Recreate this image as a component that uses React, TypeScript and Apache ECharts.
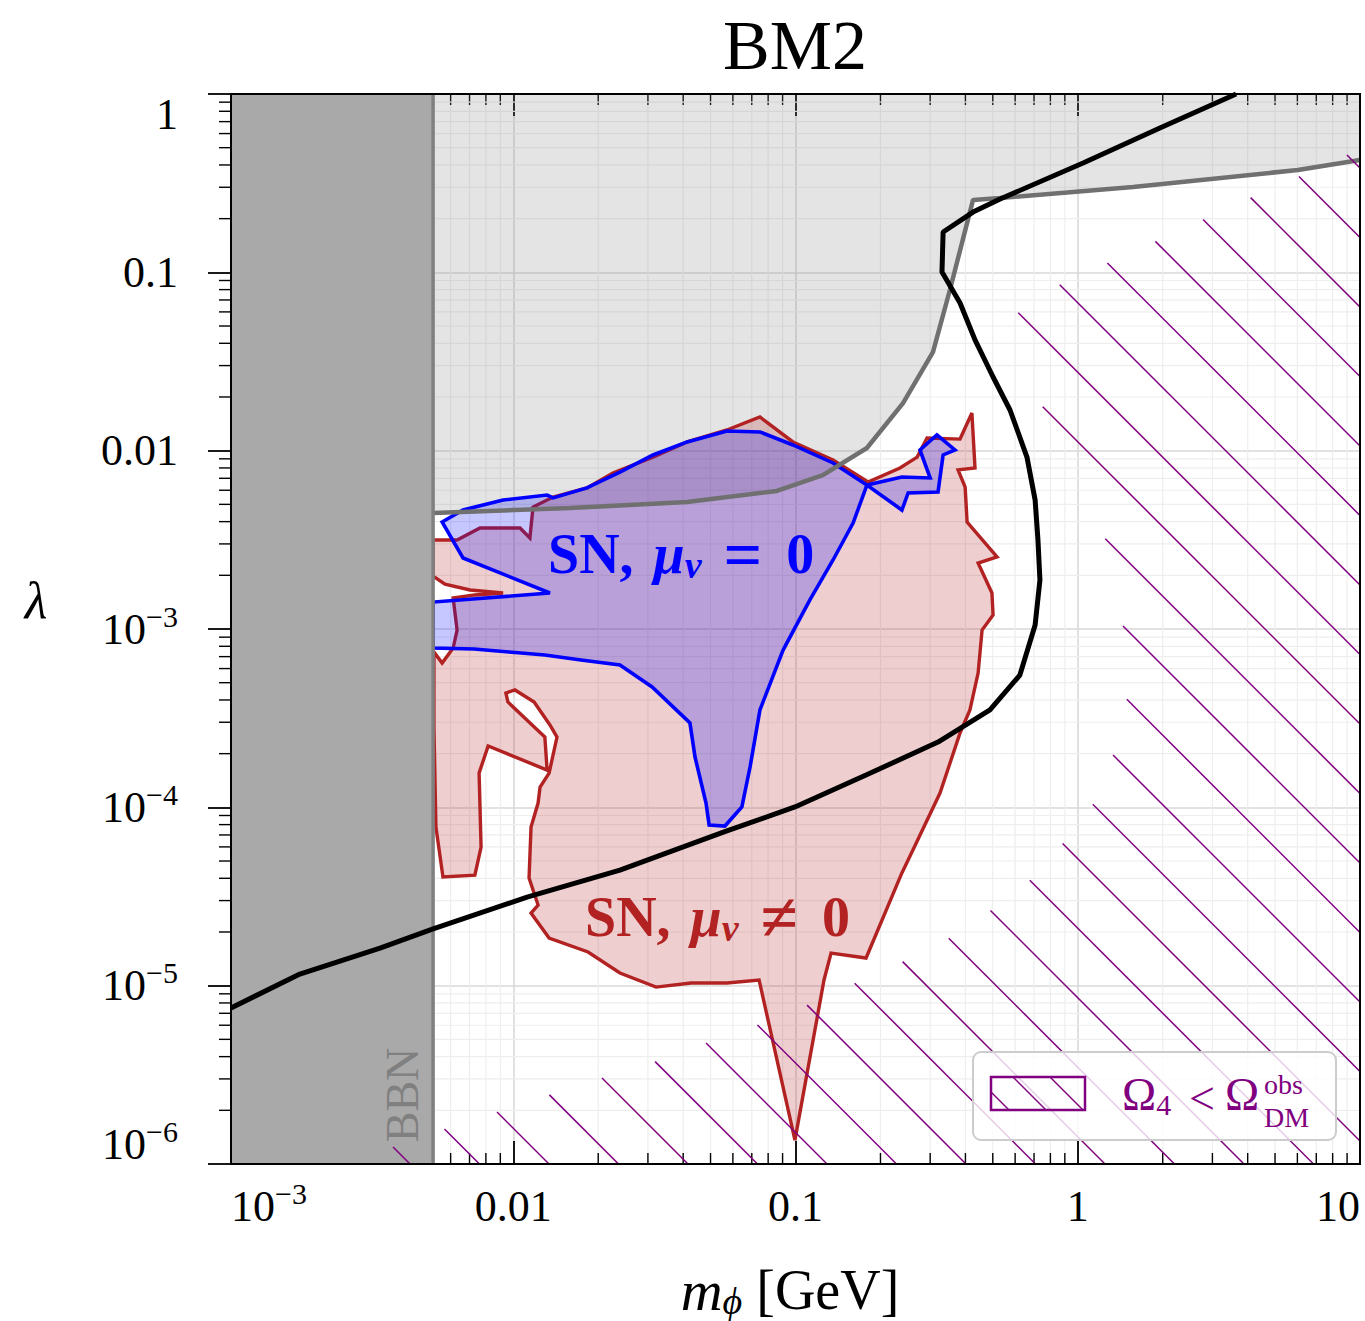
import React, { useEffect, useRef } from 'react';
import * as echarts from 'echarts';

const FONT = '"Liberation Serif", "Times New Roman", serif';

// ---------------- axes ----------------
const xRange = [1e-3, 10];
const yRange = [1e-6, 1];
const xTickValues = [1e-3, 1e-2, 1e-1, 1, 10];
const xTickLabels = ['10^−3', '0.01', '0.1', '1', '10'];
const yTickValues = [1e-6, 1e-5, 1e-4, 1e-3, 1e-2, 1e-1, 1];
const yTickLabels = ['10^−6', '10^−5', '10^−4', '10^−3', '0.01', '0.1', '1'];
const minorSteps = [2, 3, 4, 5, 6, 7, 8, 9];
const xDecades = [1e-3, 1e-2, 1e-1, 1];
const yDecades = [1e-6, 1e-5, 1e-4, 1e-3, 1e-2, 1e-1];

// ---------------- data ----------------
// BBN bound on the mediator mass (GeV)
const bbnMassLimit = 5.2e-3;

// All contours below: [log10(m_phi / GeV), log10(lambda)]
const grayBoundExp = [
  [-2.284, -2.350], [-1.799, -2.322], [-1.384, -2.288], [-1.066, -2.226], [-0.903, -2.137],
  [-0.747, -1.985], [-0.619, -1.733], [-0.513, -1.447], [-0.453, -1.099], [-0.371, -0.594],
  [-0.275, -0.583], [0.196, -0.522], [0.780, -0.426], [1.000, -0.370],
];

const blackCurveExp = [
  [-3.000, -5.125], [-2.756, -4.935], [-2.472, -4.789], [-2.284, -4.682], [-1.951, -4.503],
  [-1.622, -4.352], [-1.253, -4.138], [-1.002, -3.998], [-0.750, -3.819], [-0.495, -3.634],
  [-0.311, -3.454], [-0.205, -3.258], [-0.151, -2.978], [-0.134, -2.725], [-0.141, -2.501],
  [-0.151, -2.277], [-0.180, -2.036], [-0.240, -1.772], [-0.300, -1.587], [-0.364, -1.379],
  [-0.417, -1.172], [-0.481, -0.998], [-0.477, -0.774], [-0.371, -0.662], [-0.275, -0.589],
  [0.019, -0.387], [0.291, -0.191], [0.561, 0.000],
];

// SN bound, mu_nu != 0 (red)
const snNonzeroExp = [
  [-2.284, -2.501], [-2.199, -2.501], [-2.118, -2.434], [-1.976, -2.434], [-1.941, -2.490],
  [-1.930, -2.316], [-1.859, -2.260], [-1.739, -2.209], [-1.647, -2.125], [-1.505, -2.036],
  [-1.384, -1.951], [-1.243, -1.884], [-1.126, -1.811], [-1.009, -1.951], [-0.867, -2.052],
  [-0.743, -2.176], [-0.630, -2.097], [-0.569, -2.036], [-0.534, -1.929], [-0.417, -1.935],
  [-0.375, -1.789], [-0.364, -2.097], [-0.424, -2.108], [-0.399, -2.204], [-0.392, -2.400],
  [-0.286, -2.596], [-0.353, -2.630], [-0.304, -2.798], [-0.300, -2.922], [-0.339, -3.006],
  [-0.353, -3.247], [-0.382, -3.454], [-0.417, -3.583], [-0.488, -3.920], [-0.584, -4.239],
  [-0.623, -4.368], [-0.750, -4.845], [-0.874, -4.817], [-0.899, -4.968], [-1.002, -5.866],
  [-1.129, -4.968], [-1.243, -4.985], [-1.370, -4.985], [-1.494, -5.008], [-1.622, -4.929],
  [-1.735, -4.811], [-1.873, -4.733], [-1.937, -4.593], [-1.912, -4.548], [-1.944, -4.396],
  [-1.937, -4.110], [-1.912, -3.976], [-1.905, -3.886], [-1.873, -3.808], [-1.845, -3.606],
  [-1.870, -3.538], [-1.926, -3.409], [-1.994, -3.342], [-2.026, -3.359], [-2.019, -3.409],
  [-1.888, -3.606], [-1.880, -3.791], [-2.089, -3.656], [-2.121, -3.808], [-2.114, -4.223],
  [-2.136, -4.380], [-2.249, -4.391], [-2.274, -4.110], [-2.281, -3.550], [-2.281, -3.129],
  [-2.252, -3.191], [-2.213, -3.107], [-2.199, -3.006], [-2.213, -2.826], [-2.136, -2.809],
  [-2.036, -2.798], [-2.153, -2.781], [-2.242, -2.748], [-2.284, -2.703],
];

// SN bound, mu_nu = 0 (blue)
const snZeroExp = [
  [-2.252, -2.400], [-2.178, -2.333], [-2.036, -2.277], [-1.880, -2.249], [-1.859, -2.265],
  [-1.739, -2.209], [-1.622, -2.120], [-1.505, -2.024], [-1.384, -1.951], [-1.243, -1.890],
  [-1.126, -1.895], [-1.009, -1.968], [-0.867, -2.069], [-0.747, -2.193], [-0.623, -2.148],
  [-0.523, -2.153], [-0.559, -1.996], [-0.499, -1.912], [-0.435, -1.996], [-0.477, -2.024],
  [-0.495, -2.232], [-0.601, -2.237], [-0.623, -2.333], [-0.747, -2.193], [-0.796, -2.406],
  [-0.867, -2.613], [-0.949, -2.837], [-1.044, -3.118], [-1.126, -3.454], [-1.161, -3.774],
  [-1.190, -3.998], [-1.250, -4.105], [-1.306, -4.099], [-1.317, -3.976], [-1.356, -3.718],
  [-1.374, -3.527], [-1.508, -3.325], [-1.622, -3.202], [-1.760, -3.174], [-1.888, -3.146],
  [-2.015, -3.129], [-2.139, -3.112], [-2.284, -3.107], [-2.284, -2.849], [-1.870, -2.798],
  [-2.178, -2.602],
];

// Omega_4 < Omega_DM^obs region (purple hatch)
const relicHatchExp = [
  [-2.596, -6.000], [-2.426, -5.905], [-2.245, -5.804], [-2.058, -5.709], [-1.873, -5.613],
  [-1.686, -5.518], [-1.501, -5.428], [-1.317, -5.322], [-1.136, -5.221], [-0.959, -5.109],
  [-0.789, -4.985], [-0.623, -4.867], [-0.456, -4.733], [-0.307, -4.576], [-0.169, -4.408],
  [-0.052, -4.200], [0.054, -3.981], [0.125, -3.707], [0.175, -3.387], [0.157, -2.894],
  [0.097, -2.490], [-0.127, -1.744], [-0.212, -1.228], [-0.066, -1.071], [0.104, -0.948],
  [0.270, -0.830], [0.440, -0.707], [0.610, -0.583], [0.780, -0.465], [0.954, -0.342],
  [1.000, -0.314], [1.000, -6.000],
];

const fromExp = (pts: number[][]) => pts.map(([a, b]) => [Math.pow(10, a), Math.pow(10, b)]);

const PURPLE = '#800080';
const HATCH_GAP = 69.5;
const HATCH_PHASE = 10.5;

function tickFormatter(values: number[], labels: string[]) {
  return (v: number) => {
    const e = Math.round(Math.log10(v));
    const i = values.findIndex((t) => Math.round(Math.log10(t)) === e);
    if (i < 0) return '';
    const s = labels[i];
    if (s.indexOf('^') >= 0) {
      const [b, p] = s.split('^');
      return `{b|${b}}{s|${p}}`;
    }
    return `{b|${s}}`;
  };
}

const tickRich = {
  b: { fontSize: 44, lineHeight: 40, fontFamily: FONT, color: '#000' },
  s: { fontSize: 30, lineHeight: 20, padding: [0, 0, 26, 0], fontFamily: FONT, color: '#000' },
};

function buildOption() {
  const grayBound = fromExp(grayBoundExp);
  const black = fromExp(blackCurveExp);
  const red = fromExp(snNonzeroExp);
  const blue = fromExp(snZeroExp);
  const hatch = fromExp(relicHatchExp);
  const lightGrayRegion = [...grayBound, [xRange[1], yRange[1]], [bbnMassLimit, yRange[1]]];
  const bbnRegion = [
    [xRange[0], yRange[0]], [bbnMassLimit, yRange[0]], [bbnMassLimit, yRange[1]], [xRange[0], yRange[1]],
  ];

  const minorX: number[][] = [];
  xDecades.forEach((d) => minorSteps.forEach((m) => minorX.push([d * m, yRange[0]])));
  const minorY: number[][] = [];
  yDecades.forEach((d) => minorSteps.forEach((m) => minorY.push([xRange[0], d * m])));

  const polySeries = (name: string, pts: number[][], z: number, style: any) => ({
    type: 'custom', name, z, silent: true, clip: false,
    data: pts, encode: { x: 0, y: 1 },
    renderItem: (params: any, api: any) =>
      params.dataIndex === 0
        ? { type: 'polygon', shape: { points: pts.map((p) => api.coord(p)) }, style }
        : null,
  });

  const series: any[] = [
    {
      type: 'custom', name: 'minorX', z: 1, silent: true, data: minorX, encode: { x: 0, y: 1 },
      renderItem: (params: any, api: any) => {
        const x = api.value(0);
        const b = api.coord([x, yRange[0]]);
        const t = api.coord([x, yRange[1]]);
        return {
          type: 'group',
          children: [
            { type: 'line', shape: { x1: b[0], y1: b[1], x2: t[0], y2: t[1] }, style: { stroke: '#eeeeee', lineWidth: 1.2 } },
            { type: 'line', shape: { x1: b[0], y1: b[1], x2: b[0], y2: b[1] - 11 }, style: { stroke: '#000', lineWidth: 1.4 } },
            { type: 'line', shape: { x1: t[0], y1: t[1], x2: t[0], y2: t[1] + 11 }, style: { stroke: '#000', lineWidth: 1.4 } },
          ],
        };
      },
    },
    {
      type: 'custom', name: 'minorY', z: 1, silent: true, data: minorY, encode: { x: 0, y: 1 },
      renderItem: (params: any, api: any) => {
        const y = api.value(1);
        const l = api.coord([xRange[0], y]);
        const r = api.coord([xRange[1], y]);
        return {
          type: 'group',
          children: [
            { type: 'line', shape: { x1: l[0], y1: l[1], x2: r[0], y2: r[1] }, style: { stroke: '#eeeeee', lineWidth: 1.2 } },
            { type: 'line', shape: { x1: l[0] - 12, y1: l[1], x2: l[0], y2: l[1] }, style: { stroke: '#000', lineWidth: 1.4 } },
          ],
        };
      },
    },
    polySeries('excluded', lightGrayRegion, 2, { fill: 'rgba(128,128,128,0.21)', stroke: 'none' }),
    polySeries('SN mu != 0', red, 3, { fill: 'rgba(178,34,34,0.22)', stroke: '#b22222', lineWidth: 3.4 }),
    polySeries('SN mu = 0', blue, 4, { fill: 'rgba(0,0,255,0.22)', stroke: '#0000ff', lineWidth: 3.6 }),
    {
      type: 'line', name: 'gray bound', z: 5, silent: true, data: grayBound, showSymbol: false,
      lineStyle: { color: '#707070', width: 4.5 },
    },
    {
      type: 'custom', name: 'BBN', z: 6, silent: true, data: bbnRegion, encode: { x: 0, y: 1 },
      renderItem: (params: any, api: any) => {
        if (params.dataIndex !== 0) return null;
        const pts = bbnRegion.map((p) => api.coord(p));
        return {
          type: 'group',
          children: [
            { type: 'polygon', shape: { points: pts }, style: { fill: '#a9a9a9', stroke: 'none' } },
            { type: 'line', shape: { x1: pts[1][0], y1: pts[1][1], x2: pts[2][0], y2: pts[2][1] }, style: { stroke: '#808080', lineWidth: 3.5 } },
          ],
        };
      },
    },
    {
      type: 'line', name: 'black', z: 7, silent: true, data: black, showSymbol: false,
      lineStyle: { color: '#000', width: 5 },
    },
    {
      type: 'custom', name: 'relic', z: 8, silent: true, data: hatch, encode: { x: 0, y: 1 },
      renderItem: (params: any, api: any) => {
        if (params.dataIndex !== 0) return null;
        const P = hatch.map((p) => api.coord(p));
        const cs = P.map((p) => p[0] - p[1]);
        const cmin = Math.min(...cs);
        const cmax = Math.max(...cs);
        const start = HATCH_PHASE + Math.ceil((cmin - HATCH_PHASE) / HATCH_GAP) * HATCH_GAP;
        const segs: any[] = [];
        for (let c = start; c <= cmax; c += HATCH_GAP) {
          const xs: number[] = [];
          for (let i = 0; i < P.length; i++) {
            const p = P[i];
            const q = P[(i + 1) % P.length];
            const dp = p[0] - p[1] - c;
            const dq = q[0] - q[1] - c;
            if ((dp < 0 && dq >= 0) || (dp >= 0 && dq < 0)) {
              const s = dp / (dp - dq);
              xs.push(p[0] + s * (q[0] - p[0]));
            }
          }
          xs.sort((a, b) => a - b);
          for (let k = 0; k + 1 < xs.length; k += 2) {
            segs.push({
              type: 'line',
              shape: { x1: xs[k], y1: xs[k] - c, x2: xs[k + 1], y2: xs[k + 1] - c },
              style: { stroke: PURPLE, lineWidth: 1.5 },
            });
          }
        }
        return { type: 'group', children: segs };
      },
    },
    {
      type: 'custom', name: 'frame', z: 9, silent: true, data: [[xRange[0], yRange[0]]], encode: { x: 0, y: 1 },
      renderItem: (params: any, api: any) => {
        const a = api.coord([xRange[0], yRange[1]]);
        const b = api.coord([xRange[1], yRange[0]]);
        return {
          type: 'rect',
          shape: { x: a[0], y: a[1], width: b[0] - a[0], height: b[1] - a[1] },
          style: { fill: 'none', stroke: '#000', lineWidth: 2 },
        };
      },
    },
  ];

  const txt = (x: number, y: number, style: any, extra: any = {}) => ({
    type: 'text', x, y, z: 50, silent: true, style, ...extra,
  });

  const snRich = (color: string) => ({
    a: { fontSize: 56, fontWeight: 'bold', fontFamily: FONT, fill: color, lineHeight: 60 },
    m: { fontSize: 56, fontWeight: 'bold', fontStyle: 'italic', fontFamily: FONT, fill: color, lineHeight: 60, padding: [0, 0, 0, 20] },
    s: { fontSize: 38, fontWeight: 'bold', fontStyle: 'italic', fontFamily: FONT, fill: color, lineHeight: 42, verticalAlign: 'bottom' },
    e: { fontSize: 68, fontWeight: 'bold', fontFamily: FONT, fill: color, lineHeight: 60, padding: [0, 0, 0, 22] },
    z: { fontSize: 56, fontWeight: 'bold', fontFamily: FONT, fill: color, lineHeight: 60, padding: [0, 0, 0, 24] },
  });

  const graphic = [
    txt(795, 45, { text: 'BM2', fontFamily: FONT, fontSize: 70, fill: '#000', align: 'center', verticalAlign: 'middle' }),
    txt(36, 600, { text: 'λ', fontFamily: FONT, fontSize: 52, fontStyle: 'italic', fill: '#000', align: 'center', verticalAlign: 'middle' }),
    txt(790, 1290, {
      text: '{m|m}{s|ϕ}{n| [GeV]}', align: 'center', verticalAlign: 'middle',
      rich: {
        m: { fontSize: 58, fontStyle: 'italic', fontFamily: FONT, fill: '#000', lineHeight: 60 },
        s: { fontSize: 38, fontStyle: 'italic', fontFamily: FONT, fill: '#000', lineHeight: 28, verticalAlign: 'bottom' },
        n: { fontSize: 56, fontFamily: FONT, fill: '#000', lineHeight: 60 },
      },
    }),
    txt(402, 1095, { text: 'BBN', fontFamily: FONT, fontSize: 46, fill: '#808080', align: 'center', verticalAlign: 'middle' }, { rotation: Math.PI / 2 }),
    txt(548, 554, { text: '{a|SN,}{m|μ}{s|ν}{e|=}{z|0}', align: 'left', verticalAlign: 'middle', rich: snRich('#0000ff') }),
    txt(585, 917, { text: '{a|SN,}{m|μ}{s|ν}{e|≠}{z|0}', align: 'left', verticalAlign: 'middle', rich: snRich('#b22222') }),
    // legend
    {
      type: 'rect', z: 50, silent: true,
      shape: { x: 973, y: 1052, width: 363, height: 88, r: 8 },
      style: { fill: 'rgba(255,255,255,0.8)', stroke: '#cccccc', lineWidth: 2 },
    },
    { type: 'line', z: 51, silent: true, shape: { x1: 991, y1: 1092, x2: 1009, y2: 1110 }, style: { stroke: PURPLE, lineWidth: 1.5 } },
    { type: 'line', z: 51, silent: true, shape: { x1: 1013, y1: 1077, x2: 1046, y2: 1110 }, style: { stroke: PURPLE, lineWidth: 1.5 } },
    { type: 'line', z: 51, silent: true, shape: { x1: 1050, y1: 1077, x2: 1083, y2: 1110 }, style: { stroke: PURPLE, lineWidth: 1.5 } },
    {
      type: 'rect', z: 52, silent: true,
      shape: { x: 991, y: 1077, width: 94, height: 33 },
      style: { fill: 'none', stroke: PURPLE, lineWidth: 2.5 },
    },
    txt(1122, 1094, {
      text: '{a|Ω}{s|4}', align: 'left', verticalAlign: 'middle',
      rich: {
        a: { fontSize: 46, fontFamily: FONT, fill: PURPLE, lineHeight: 50 },
        s: { fontSize: 30, fontFamily: FONT, fill: PURPLE, lineHeight: 24, verticalAlign: 'bottom' },
      },
    }, { z: 52 }),
    txt(1202, 1098, { text: '<', fontFamily: FONT, fontSize: 46, fill: PURPLE, align: 'center', verticalAlign: 'middle' }, { z: 52 }),
    txt(1225, 1094, { text: 'Ω', fontFamily: FONT, fontSize: 46, fill: PURPLE, align: 'left', verticalAlign: 'middle' }, { z: 52 }),
    txt(1264, 1084, { text: 'obs', fontFamily: FONT, fontSize: 28, lineHeight: 24, fill: PURPLE, align: 'left', verticalAlign: 'middle' }, { z: 52 }),
    txt(1264, 1117, { text: 'DM', fontFamily: FONT, fontSize: 28, lineHeight: 24, fill: PURPLE, align: 'left', verticalAlign: 'middle' }, { z: 52 }),
  ];

  return {
    animation: false,
    backgroundColor: '#ffffff',
    grid: { left: 231, right: 5, top: 94, bottom: 157, containLabel: false },
    xAxis: [
      {
        type: 'log', logBase: 10, min: xRange[0], max: xRange[1], position: 'bottom',
        axisLine: { show: false },
        axisTick: { show: true, inside: true, length: 23, lineStyle: { color: '#000', width: 1.8 } },
        axisLabel: {
          show: true, interval: 0, margin: 22, formatter: tickFormatter(xTickValues, xTickLabels),
          rich: tickRich, fontFamily: FONT, fontSize: 44, color: '#000',
          showMinLabel: true, showMaxLabel: true, hideOverlap: false,
          alignMinLabel: 'left', alignMaxLabel: 'right',
        },
        splitLine: { show: true, lineStyle: { color: '#d9d9d9', width: 1.6 } },
        minorTick: { show: false }, minorSplitLine: { show: false },
      },
      {
        type: 'log', logBase: 10, min: xRange[0], max: xRange[1], position: 'top',
        axisLine: { show: false },
        axisTick: { show: true, inside: true, length: 22, lineStyle: { color: '#000', width: 1.8 } },
        axisLabel: { show: false },
        splitLine: { show: false },
      },
    ],
    yAxis: [
      {
        type: 'log', logBase: 10, min: yRange[0], max: yRange[1], position: 'left',
        axisLine: { show: false },
        axisTick: { show: true, inside: false, length: 23, lineStyle: { color: '#000', width: 1.8 } },
        axisLabel: {
          show: true, interval: 0, margin: 53, formatter: tickFormatter(yTickValues, yTickLabels),
          rich: tickRich, fontFamily: FONT, fontSize: 44, color: '#000',
          showMinLabel: true, showMaxLabel: true, hideOverlap: false,
          verticalAlignMinLabel: 'bottom', verticalAlignMaxLabel: 'top',
        },
        splitLine: { show: true, lineStyle: { color: '#d9d9d9', width: 1.6 } },
        minorTick: { show: false }, minorSplitLine: { show: false },
      },
    ],
    series,
    graphic: { elements: graphic },
  };
}

export default function App() {
  const ref = useRef<HTMLDivElement>(null);
  useEffect(() => {
    if (!ref.current) return;
    const chart = echarts.init(ref.current, null, { renderer: 'svg' });
    chart.setOption(buildOption() as any);
    return () => chart.dispose();
  }, []);
  return (
    <div
      ref={ref}
      style={{ position: 'fixed', left: 0, top: 0, width: 1365, height: 1321, background: '#fff' }}
    />
  );
}
